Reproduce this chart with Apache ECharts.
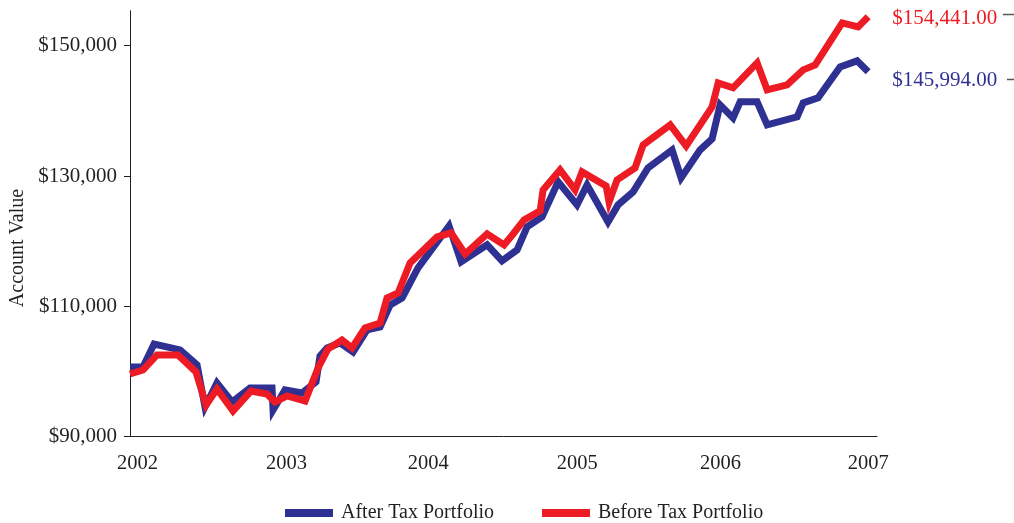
<!DOCTYPE html>
<html>
<head>
<meta charset="utf-8">
<script src="https://cdn.jsdelivr.net/npm/echarts@6/dist/echarts.min.js"></script>
<style>
html,body{margin:0;padding:0;background:#fff;}
#chart{width:1014px;height:523px;}
</style>
</head>
<body>
<div id="chart"></div>
<script>
// Time in fractional years, values in dollars
const afterTaxYears = [2002.000,2002.088,2002.163,2002.339,2002.454,2002.508,2002.589,2002.691,2002.813,2002.962,2002.969,2003.050,2003.165,2003.260,2003.287,2003.335,2003.423,2003.511,2003.606,2003.694,2003.762,2003.843,2003.951,2004.161,2004.243,2004.419,2004.520,2004.622,2004.690,2004.791,2004.900,2005.028,2005.096,2005.238,2005.306,2005.408,2005.509,2005.672,2005.733,2005.862,2005.943,2005.997,2006.085,2006.133,2006.248,2006.316,2006.519,2006.560,2006.661,2006.810,2006.925,2007.000];
const afterTaxValues = [100700,100700,104230,103310,101010,94560,98240,95330,97480,97480,94100,97170,96710,98400,102390,103620,104380,103000,106380,106840,110220,111290,115900,122340,116820,119430,116970,118660,122190,123720,129100,125570,128640,122960,125570,127560,131250,134010,129710,134010,135700,140920,138920,141380,141380,137850,139070,141220,141990,146750,147670,145994];
const beforeTaxYears = [2002.000,2002.088,2002.183,2002.325,2002.447,2002.515,2002.589,2002.698,2002.820,2002.928,2002.982,2003.064,2003.186,2003.274,2003.341,2003.436,2003.504,2003.592,2003.694,2003.741,2003.816,2003.897,2004.080,2004.175,2004.270,2004.419,2004.534,2004.595,2004.669,2004.778,2004.798,2004.913,2005.015,2005.062,2005.225,2005.245,2005.299,2005.421,2005.476,2005.659,2005.767,2005.943,2005.984,2006.085,2006.248,2006.316,2006.451,2006.560,2006.641,2006.824,2006.932,2007.000];
const beforeTaxValues = [99620,100240,102540,102540,99930,94870,97320,93950,97020,96550,95330,96250,95480,100550,103460,104840,103620,106690,107450,111290,112060,116660,120650,121270,118040,121110,119430,121110,123260,124650,127870,130940,127870,130630,128480,126030,129400,131250,134780,137850,134620,140610,144290,143530,147360,143220,143990,146290,147060,153500,152890,154441];

const seriesNames = ['After Tax Portfolio', 'Before Tax Portfolio'];
const yTickValues = [90000, 110000, 130000, 150000];
const xTickLabels = ['2002', '2003', '2004', '2005', '2006', '2007'];
const xTickPositions = [2002.05, 2003.06, 2004.02, 2005.03, 2006.0, 2007.0];
const yAxisTitle = 'Account Value';

const BLUE = '#2e3192', RED = '#ed1c24', INK = '#231f20';
const FONT = '"Liberation Serif", "DejaVu Serif", serif';

function money(v) { return '$' + v.toLocaleString('en-US'); }
function moneyCents(v) { return '$' + v.toLocaleString('en-US', {minimumFractionDigits: 2, maximumFractionDigits: 2}); }
function pairs(xs, ys) { return xs.map((x, i) => [x, ys[i]]); }

const chart = echarts.init(document.getElementById('chart'));
chart.setOption({
  animation: false,
  backgroundColor: '#fff',
  grid: { left: 130, right: 137, top: 10.7, bottom: 86.3, containLabel: false },
  xAxis: {
    type: 'value', min: 2002, max: 2007.06,
    axisLine: { show: true, lineStyle: { color: INK, width: 1 } },
    axisTick: { show: false },
    splitLine: { show: false },
    axisLabel: {
      customValues: xTickPositions,
      formatter: v => xTickLabels[xTickPositions.findIndex(p => Math.abs(p - v) < 1e-6)] || '',
      color: INK, fontFamily: FONT, fontSize: 20.5, margin: 16
    }
  },
  yAxis: {
    type: 'value', min: 90000, max: 155370,
    axisLine: { show: true, lineStyle: { color: INK, width: 1 } },
    axisTick: { show: true, customValues: yTickValues, length: 6, lineStyle: { color: INK } },
    splitLine: { show: false },
    axisLabel: {
      customValues: yTickValues,
      formatter: v => money(v),
      color: INK, fontFamily: FONT, fontSize: 21, margin: 13
    }
  },
  legend: {
    left: 285, top: 503, padding: 0,
    icon: 'rect', itemWidth: 48, itemHeight: 8, itemGap: 48,
    data: seriesNames,
    textStyle: { color: INK, fontFamily: FONT, fontSize: 20, padding: [0, 0, 0, 3] }
  },
  graphic: [
    { type: 'text', x: 18, y: 248, rotation: Math.PI / 2,
      style: { text: yAxisTitle, fill: INK, font: '20px ' + FONT, align: 'center', verticalAlign: 'middle' } },
    { type: 'line', shape: { x1: 1003, y1: 14.5, x2: 1014, y2: 14.5 }, style: { stroke: '#555', lineWidth: 1.5 } },
    { type: 'line', shape: { x1: 1007, y1: 79.5, x2: 1014, y2: 79.5 }, style: { stroke: '#555', lineWidth: 1.5 } }
  ],
  series: [
    {
      name: seriesNames[0], type: 'line', data: pairs(afterTaxYears, afterTaxValues),
      symbol: 'none', color: BLUE,
      lineStyle: { color: BLUE, width: 7, join: 'miter', miterLimit: 4 },
      endLabel: { show: true, distance: 24, offset: [0, 9], color: BLUE, fontFamily: FONT, fontSize: 21,
        formatter: p => moneyCents(p.value[1]) },
      z: 2
    },
    {
      name: seriesNames[1], type: 'line', data: pairs(beforeTaxYears, beforeTaxValues),
      symbol: 'none', color: RED,
      lineStyle: { color: RED, width: 7, join: 'miter', miterLimit: 4 },
      endLabel: { show: true, distance: 24, offset: [0, 2], color: RED, fontFamily: FONT, fontSize: 21,
        formatter: p => moneyCents(p.value[1]) },
      z: 3
    }
  ]
});
</script>
</body>
</html>
